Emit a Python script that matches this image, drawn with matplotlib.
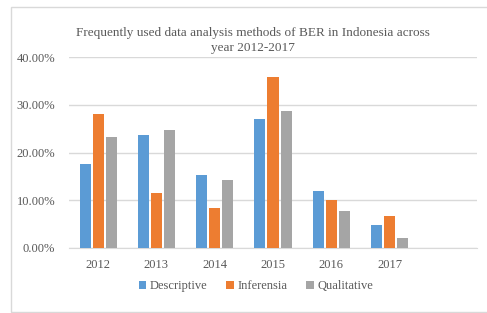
import matplotlib.pyplot as plt
import matplotlib.patches as patches
import numpy as np

# Data (last slot on the axis is empty)
years = ['2012', '2013', '2014', '2015', '2016', '2017', '']
descriptive = [17.6, 23.7, 15.3, 27.0, 11.9, 4.8, np.nan]
inferensia = [28.1, 11.5, 8.4, 35.8, 10.0, 6.7, np.nan]
qualitative = [23.2, 24.7, 14.2, 28.7, 7.7, 2.1, np.nan]
series_names = ['Descriptive', 'Inferensia', 'Qualitative']
series_colors = ['#5B9BD5', '#ED7D31', '#A5A5A5']

plt.rcParams['font.family'] = ['Liberation Serif', 'DejaVu Serif']
text_color = '#595959'

fig = plt.figure(figsize=(4.87, 3.13), dpi=100, facecolor='white')
ax = fig.add_axes([69 / 487, 1 - 248 / 313, 408 / 487, 191 / 313])

x = np.arange(len(years))
width = 0.19
step = 0.224
for i, (vals, name, col) in enumerate(zip([descriptive, inferensia, qualitative],
                                          series_names, series_colors)):
    ax.bar(x + (i - 1) * step, vals, width, color=col, label=name, zorder=3)

ax.set_xlim(-0.5, len(years) - 0.5)
ax.set_ylim(0, 40)
ax.set_yticks([0, 10, 20, 30, 40])
ax.set_yticklabels([f'{v:.2f}%' for v in [0, 10, 20, 30, 40]])
ax.set_xticks(x)
ax.set_xticklabels(years)
ax.tick_params(length=0, colors=text_color, labelsize=9)
ax.tick_params(axis='y', pad=10)
ax.tick_params(axis='x', pad=8)
ax.grid(axis='y', color='#D9D9D9', linewidth=1, zorder=0)
for s in ['top', 'right', 'left']:
    ax.spines[s].set_visible(False)
ax.spines['bottom'].set_color('#D9D9D9')

fig.text(253 / 487, 1 - 40.5 / 313,
         'Frequently used data analysis methods of BER in Indonesia across\nyear 2012-2017',
         ha='center', va='center', color=text_color, fontsize=9.5, linespacing=1.25)

fig.legend(loc='center', bbox_to_anchor=(256 / 487, 1 - 286 / 313), ncol=3,
           frameon=False, fontsize=9, labelcolor=text_color,
           handlelength=0.6, handleheight=0.6, handletextpad=0.3, columnspacing=1.5)

# Outer chart-area border
fig.patches.append(patches.Rectangle((11 / 487, 1 - 312 / 313), 1, 305 / 313,
                                     transform=fig.transFigure, fill=False,
                                     edgecolor='#D9D9D9', linewidth=1))

plt.savefig('out.png', dpi=100)
